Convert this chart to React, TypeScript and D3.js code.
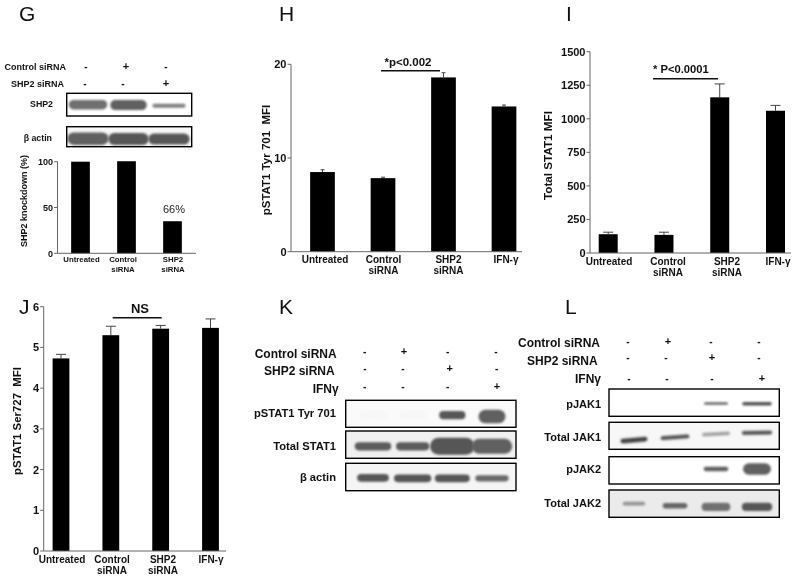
import React from "react";
import * as d3 from "d3";

const FONT = "'Liberation Sans', Arial, sans-serif";
const gCats = [["Untreated"], ["Control", "siRNA"], ["SHP2", "siRNA"]];
const fourCats = [["Untreated"], ["Control", "siRNA"], ["SHP2", "siRNA"], ["IFN-γ"]];
const gValues = [100, 100.5, 35];
const hValues = [8.5, 7.85, 18.6, 15.5];
const hErrTop = [8.75, 7.95, 19.1, 15.65];
const iValues = [140, 135, 1160, 1060];
const iErrTop = [155, 155, 1260, 1100];
const jValues = [4.73, 5.3, 5.46, 5.48];
const jErrTop = [4.83, 5.52, 5.54, 5.7];
const gTicks = [0, 50, 100];
const hTicks = [0, 10, 20];
const iTicks = [0, 250, 500, 750, 1000, 1250, 1500];
const jTicks = [0, 1, 2, 3, 4, 5, 6];

type Band = { lane: number; density: number; breadth: number; thick: number; pos: number; tilt?: number };
const band = (lane: number, density: number, breadth: number, thick: number, pos: number, tilt = 0): Band => ({ lane, density, breadth, thick, pos, tilt });

const gBlots = [
  { name: "SHP2", bg: 0, bands: [band(0, .56, .95, .42, .5), band(1, .62, .9, .44, .52), band(2, .5, .82, .17, .55)] },
  { name: "β actin", bg: .03, bands: [band(0, .62, 1.02, .62, .6), band(1, .66, 1, .6, .62), band(2, .66, 1.02, .55, .62)] },
];
const kBlots = [
  { name: "pSTAT1 Tyr 701", bg: .02, bands: [band(0, .03, .7, .3, .55), band(1, .03, .7, .3, .55), band(2, .66, .66, .3, .55), band(3, .62, .68, .5, .6)] },
  { name: "Total STAT1", bg: .06, bands: [band(0, .64, .92, .3, .56), band(1, .64, .84, .3, .56), band(2, .66, 1.12, .62, .56), band(3, .62, 1.02, .55, .56)] },
  { name: "β actin", bg: .04, bands: [band(0, .66, .8, .28, .53), band(1, .66, .94, .28, .55), band(2, .66, .88, .28, .55), band(3, .58, .84, .22, .55)] },
];
const lBlots = [
  { name: "pJAK1", bg: 0, bands: [band(2, .6, .58, .09, .53), band(3, .68, .72, .13, .54)] },
  { name: "Total JAK1", bg: .03, bands: [band(0, .74, .66, .17, .66, -5), band(1, .68, .7, .15, .55, -4), band(2, .38, .68, .13, .43, -3), band(3, .66, .74, .15, .39, -1)] },
  { name: "pJAK2", bg: 0, bands: [band(2, .62, .6, .17, .45), band(3, .62, .68, .42, .45)] },
  { name: "Total JAK2", bg: .08, bands: [band(0, .42, .55, .14, .5), band(1, .6, .6, .2, .58), band(2, .56, .7, .3, .62), band(3, .66, .74, .3, .62)] },
];
const gSigns = [["-", "+", "-"], ["-", "-", "+"]];
const kSigns = [["-", "+", "-", "-"], ["-", "-", "+", "-"], ["-", "-", "-", "+"]];
const rowNames2 = ["Control siRNA", "SHP2 siRNA"];
const rowNames3 = ["Control siRNA", "SHP2 siRNA", "IFNγ"];

function BarPanel(p: any) {
  const y = d3.scaleLinear().domain(p.domain).range([p.y0, p.y1]);
  const x = d3.scalePoint<number>().domain(p.values.map((_: number, i: number) => i)).range(p.xr);
  return (
    <g fontFamily={FONT} fill="#111">
      {p.values.map((v: number, i: number) => (
        <g key={i}>
          {p.err && (
            <path d={`M${x(i)},${y(v)}V${y(p.err[i])}M${x(i)! - p.cap},${y(p.err[i])}H${x(i)! + p.cap}`} stroke="#444" strokeWidth={1} fill="none" />
          )}
          <rect x={x(i)! - p.bw / 2} width={p.bw} y={y(v)} height={p.y0 - y(v)} fill="#000" />
        </g>
      ))}
      <path d={`M${p.ax},${p.y1}V${p.y0}H${p.xEnd}`} stroke="#666" strokeWidth={1} fill="none" />
      {p.ticks.map((t: number) => (
        <g key={t}>
          <line x1={p.ax - 3.5} x2={p.ax} y1={y(t)} y2={y(t)} stroke="#666" />
          <text x={p.ax - 4.5} y={y(t) + p.tf * 0.36} textAnchor="end" fontSize={p.tf} fontWeight="bold">{t}</text>
        </g>
      ))}
      {p.cats.map((c: string[], i: number) => c.map((s, k) => (
        <text key={i + s} x={p.lx[i][k]} y={p.ly + k * p.lh} textAnchor="middle" fontSize={p.lf} fontWeight="bold">{s}</text>
      )))}
      <text transform={`translate(${p.yl[0]},${p.yl[1]}) rotate(-90)`} textAnchor="middle" fontSize={p.yf} fontWeight="bold" xmlSpace="preserve">{p.title}</text>
    </g>
  );
}

function Blot(p: any) {
  const lane = d3.scaleLinear().domain([0, p.last]).range(p.lanes);
  const yy = d3.scaleLinear().domain([0, 1]).range([p.top, p.top + p.h]);
  const shade = d3.interpolateRgb("#ffffff", "#000000");
  const id = p.id;
  return (
    <g>
      <clipPath id={id}><rect x={p.x0} y={p.top} width={p.x1 - p.x0} height={p.h} /></clipPath>
      <rect x={p.x0} y={p.top} width={p.x1 - p.x0} height={p.h} fill={shade(p.bg)} />
      <g clipPath={`url(#${id})`}>
        {p.bands.map((b: Band, i: number) => {
          const w = (lane(1) - lane(0)) * b.breadth;
          const t = p.h * b.thick;
          const cx = lane(b.lane), cy = yy(b.pos);
          return (
            <rect key={i} x={cx - w / 2} y={cy - t / 2} width={w} height={t} rx={Math.min(w, t) / 2}
              fill={shade(b.density)} filter="url(#soft)" transform={`rotate(${b.tilt || 0} ${cx} ${cy})`} />
          );
        })}
      </g>
      <rect x={p.x0} y={p.top} width={p.x1 - p.x0} height={p.h} fill="none" stroke="#000" strokeWidth={1.4} />
      <text x={p.lx} y={p.top + p.h * p.ly} textAnchor="end" fontFamily={FONT} fontSize={p.lf} fontWeight="bold" fill="#111">{p.name}</text>
    </g>
  );
}

function Signs(p: any) {
  return (
    <g fontFamily={FONT} fontWeight="bold" fill="#111" fontSize={p.f}>
      {p.rows.map((r: string[], ri: number) => r.map((s, i) => (
        <text key={i} x={p.xs[ri][i]} y={p.ys[ri]} textAnchor="middle" fontSize={s === "+" ? p.f + 1 : p.f}>{s}</text>
      )))}
      {p.names.map((n: string, ri: number) => (
        <text key={n} x={p.nx[ri]} y={p.ny[ri]} textAnchor="end" fontSize={p.nf}>{n}</text>
      ))}
    </g>
  );
}

function Letter({ x, y, s }: any) {
  return <text x={x} y={y} fontFamily={FONT} fontSize={21} fill="#111">{s}</text>;
}

export default function App() {
  return (
    <svg width={800} height={583} style={{ position: "absolute", left: 0, top: 0, background: "#fff", filter: "blur(0.35px)" }}>
      <defs>
        <filter id="soft" x="-30%" y="-80%" width="160%" height="260%"><feGaussianBlur stdDeviation="1" /></filter>
      </defs>
      <Letter x={19} y={21} s="G" />
      <Letter x={279} y={21} s="H" />
      <Letter x={566} y={21} s="I" />
      <Letter x={19} y={314} s="J" />
      <Letter x={279} y={314} s="K" />
      <Letter x={565} y={314} s="L" />

      <Signs rows={gSigns} names={rowNames2} f={10} nf={9}
        xs={[[86, 126, 166], [85, 123, 166]]} ys={[70, 87]} nx={[66, 64]} ny={[69.5, 87]} />
      {gBlots.map((b, i) => (
        <Blot key={i} id={`g${i}`} {...b} x0={66.7} x1={191.7} top={[93.3, 126.7][i]} h={[22.7, 20][i]} lanes={[88, 169]} last={2} lx={[53, 52][i]} ly={[.6, .72][i]} lf={8.8} />
      ))}
      <BarPanel values={gValues} domain={[0, 100]} y0={253.3} y1={161.7} xr={[80.5, 172.5]} bw={18.7} ax={57.5} xEnd={196}
        ticks={gTicks} tf={9} cats={gCats} lx={[[81.5], [123, 123], [173, 173]]} ly={262} lh={9.5} lf={7.8}
        yl={[26.5, 201]} yf={9} title="SHP2 knockdown (%)" />
      <text x={174} y={213} textAnchor="middle" fontFamily={FONT} fontSize={11} fill="#222">66%</text>

      <BarPanel values={hValues} err={hErrTop} cap={2} domain={[0, 20]} y0={251.7} y1={64.3} xr={[322.5, 504]} bw={24.7} ax={291} xEnd={522}
        ticks={hTicks} tf={11} cats={fourCats} lx={[[325], [383.5, 383.5], [448.5, 448.5], [506]]} ly={262.7} lh={11.5} lf={10}
        yl={[270, 160]} yf={11.5} title="pSTAT1 Tyr 701  MFI" />
      <text x={408} y={65.7} textAnchor="middle" fontFamily={FONT} fontSize={11.5} fontWeight="bold" fill="#111">*p&lt;0.002</text>
      <line x1={381} x2={440} y1={70.7} y2={70.7} stroke="#111" strokeWidth={1.5} />

      <BarPanel values={iValues} err={iErrTop} cap={5} domain={[0, 1500]} y0={253} y1={51.7} xr={[608.2, 775.5]} bw={19} ax={590} xEnd={791}
        ticks={iTicks} tf={11} cats={fourCats} lx={[[609], [668, 668], [727, 727], [778]]} ly={265} lh={11.3} lf={10}
        yl={[552, 155.5]} yf={11.7} title="Total STAT1 MFI" />
      <text x={653} y={72.7} fontFamily={FONT} fontSize={11.2} fontWeight="bold" fill="#111">* P&lt;0.0001</text>
      <line x1={653} x2={718} y1={78.7} y2={78.7} stroke="#111" strokeWidth={1.5} />

      <BarPanel values={jValues} err={jErrTop} cap={5} domain={[0, 6]} y0={551} y1={306.7} xr={[61, 210.5]} bw={16.8} ax={43.7} xEnd={226}
        ticks={jTicks} tf={11} cats={fourCats} lx={[[62], [112, 112], [163, 163], [211]]} ly={563} lh={11.2} lf={10}
        yl={[21, 421]} yf={11.4} title="pSTAT1 Ser727  MFI" />
      <text x={140} y={313} textAnchor="middle" fontFamily={FONT} fontSize={13} fontWeight="bold" fill="#111">NS</text>
      <line x1={112.7} x2={161.7} y1={317.7} y2={317.7} stroke="#111" strokeWidth={1.5} />

      <Signs rows={kSigns} names={rowNames3} f={10} nf={12}
        xs={[[364.7, 404, 447.7, 496], [365, 403, 449.7, 496.7], [364.7, 403, 447.7, 497]]} ys={[355, 372, 390]}
        nx={[336.7, 334.7, 338.7]} ny={[357.7, 375, 393]} />
      {kBlots.map((b, i) => (
        <Blot key={i} id={`k${i}`} {...b} x0={345.7} x1={516} top={[400.3, 431, 463.3][i]} h={[27, 27.3, 27.4][i]} lanes={[373, 492]} last={3} lx={336} ly={[.63, .68, .65][i]} lf={11.2} />
      ))}

      <Signs rows={kSigns} names={rowNames3} f={10} nf={12}
        xs={[[628, 668, 711, 759], [628, 666, 712, 759], [629, 667, 712, 762]]} ys={[345, 361, 382]}
        nx={[600, 597.7, 601]} ny={[346.7, 365, 383]} />
      {lBlots.map((b, i) => (
        <Blot key={i} id={`l${i}`} {...b} x0={609} x1={779.3} top={[389, 422.3, 456.7, 490][i]} h={[27.3, 27, 27.3, 27.3][i]} lanes={[634, 757]} last={3} lx={601} ly={[.68, .68, .58, .62][i]} lf={11} />
      ))}
    </svg>
  );
}
